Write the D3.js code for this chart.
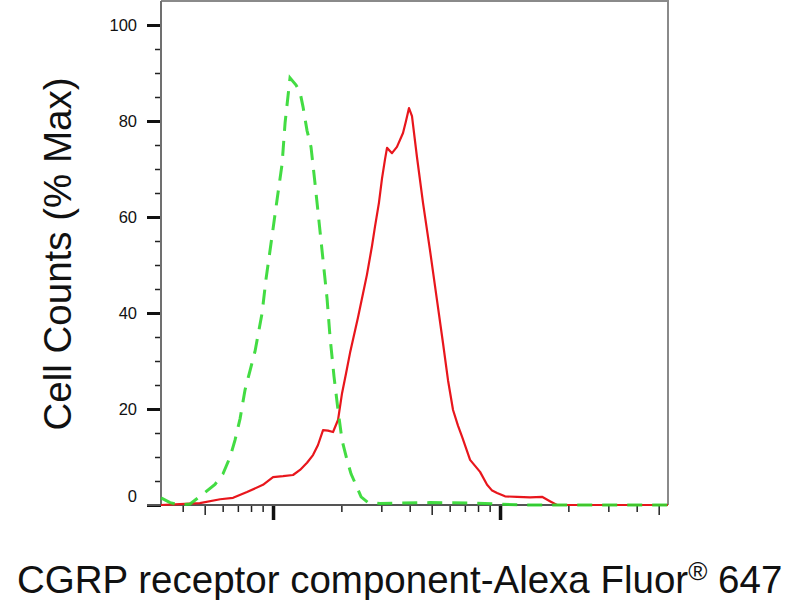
<!DOCTYPE html>
<html>
<head>
<meta charset="utf-8">
<script src="https://cdn.jsdelivr.net/npm/d3@7"></script>
<style>
  body { margin: 0; background: #fff; }
  text { font-family: Arial, "Liberation Sans", sans-serif; }
</style>
</head>
<body>
<div id="chart"></div>
<script>
// Flow cytometry histogram: isotype control (green dashed) vs sample (red)

// fluorescence intensity (log axis) and % max counts
const isotypeX = [321, 352, 389, 431, 492, 555, 602, 647, 680, 716, 753, 792, 833, 895, 931, 990, 1041, 1096, 1130, 1188, 1263,
    1315, 1355, 1412, 1470, 1531, 1595, 1661, 1730, 1783, 1857, 1933, 2014, 2118, 2206, 2298, 2443, 2623, 2960, 3625,
    4917, 7381, 10000, 12250, 54950];
const isotypeY = [1.5, 0.5, 0, 0.2, 2.3, 4.3, 6.5, 10, 13.5, 18, 24, 28, 32, 40, 47, 56, 63.5, 71, 79.6, 89, 87.5,
    86, 83, 78, 74.6, 67, 59, 51, 43, 35, 26.7, 19.8, 13.5, 9.4, 6.5, 4.6, 1.7, 0.5, 0.3, 0.4,
    0.5, 0.4, 0.2, 0, 0];

const sampleX = [321, 389, 476, 585, 667, 768, 903, 1000, 1107, 1225, 1315, 1412, 1500, 1578, 1661, 1746, 1838, 1933,
    2014, 2099, 2184, 2366, 2490, 2593, 2730, 2813, 2929, 3020, 3114, 3178, 3343, 3515, 3738, 3853, 3972, 4094, 4306,
    4577, 4917, 5276, 5609, 5900, 6209, 6534, 6808, 7381, 8166, 8770, 9230, 9706, 10520, 11890, 13560, 15310, 16590,
    17820, 54950];
const sampleY = [0, 0.2, 0.4, 1.2, 1.5, 2.7, 4.2, 5.8, 6.0, 6.25, 7.3, 8.8, 10.4, 12.5, 15.6, 15.5, 15.2, 17.7,
    23.3, 27.5, 31.7, 39, 44, 48, 54, 58, 63, 68, 72, 74.4, 73.3, 74.6, 77.5, 80, 82.7, 81, 72.5,
    63, 53, 42.7, 33.7, 26, 19.8, 16.5, 14.2, 9.4, 6.9, 4.2, 3, 2.5, 1.8, 1.7, 1.6, 1.7, 0.8,
    0, 0];

const yMajorTicks = [0, 20, 40, 60, 80, 100];
const yMinorTicks = d3.range(0, 101, 5);
const xDecadeTicks = [1000, 10000];
const xMinorTicks = [400, 500, 600, 700, 800, 900, 2000, 3000, 4000, 5000, 6000, 7000, 8000, 9000,
    20000, 30000, 40000, 50000];

const xTitle = 'CGRP receptor component-Alexa Fluor';
const yTitle = 'Cell Counts (% Max)';

const width = 800, height = 600;
const plot = { left: 161, right: 668, top: 1, bottom: 505 };

const svg = d3.select('#chart').append('svg')
    .attr('width', width)
    .attr('height', height);

const x = d3.scaleLog().domain([321, 54950]).range([plot.left, plot.right]);
const y = d3.scaleLinear().domain([0, 100]).range([plot.bottom, 25]);

// frame (top and right)
svg.append('path')
    .attr('d', `M${plot.left},${plot.top}H${plot.right}V${plot.bottom}`)
    .attr('fill', 'none')
    .attr('stroke', '#8a8a8a')
    .attr('stroke-width', 2);

// y axis: minor ticks every 5, labelled ticks every 20
const yMinor = svg.append('g')
    .attr('transform', `translate(${plot.left},0)`)
    .call(d3.axisLeft(y).tickValues(yMinorTicks).tickSize(6).tickFormat(''));
yMinor.select('.domain').remove();
yMinor.selectAll('line').attr('stroke', '#222').attr('stroke-width', 1.5);

const yMajor = svg.append('g')
    .attr('transform', `translate(${plot.left},0)`)
    .call(d3.axisLeft(y).tickValues(yMajorTicks).tickSize(14).tickPadding(10));
yMajor.select('.domain').remove();
yMajor.selectAll('line').attr('stroke', '#111').attr('stroke-width', 3);
yMajor.selectAll('text')
    .attr('font-size', 16.5)
    .attr('fill', '#111')
    .attr('dy', d => d === 0 ? '-0.2em' : '0.32em');

// x axis: log ticks, decades longer and thicker
const xMinor = svg.append('g')
    .attr('transform', `translate(0,${plot.bottom})`)
    .call(d3.axisBottom(x).tickValues(xMinorTicks).tickFormat(''));
xMinor.select('.domain').remove();
xMinor.selectAll('.tick line')
    .attr('y2', d => String(d)[0] === '5' ? 10 : 7)
    .attr('stroke', '#222')
    .attr('stroke-width', 1.5);

const xMajor = svg.append('g')
    .attr('transform', `translate(0,${plot.bottom})`)
    .call(d3.axisBottom(x).tickValues(xDecadeTicks).tickSize(15).tickFormat(''));
xMajor.select('.domain').remove();
xMajor.selectAll('.tick line').attr('stroke', '#111').attr('stroke-width', 3.5);

// axis lines
svg.append('line')
    .attr('x1', plot.left).attr('x2', plot.left)
    .attr('y1', plot.top).attr('y2', plot.bottom)
    .attr('stroke', '#707070').attr('stroke-width', 2);
svg.append('line')
    .attr('x1', plot.left - 14).attr('x2', plot.right)
    .attr('y1', plot.bottom).attr('y2', plot.bottom)
    .attr('stroke', '#555').attr('stroke-width', 2);

const line = d3.line()
    .x(d => x(d[0]))
    .y(d => y(d[1]));

svg.append('path')
    .datum(d3.zip(sampleX, sampleY))
    .attr('d', line)
    .attr('fill', 'none')
    .attr('stroke', '#e8161c')
    .attr('stroke-width', 2.2)
    .attr('stroke-linejoin', 'round');

svg.append('path')
    .datum(d3.zip(isotypeX, isotypeY))
    .attr('d', line)
    .attr('fill', 'none')
    .attr('stroke', '#2fd82f')
    .attr('stroke-opacity', 0.9)
    .attr('stroke-width', 3)
    .attr('stroke-dasharray', '15,10');

// titles
svg.append('text')
    .attr('transform', 'translate(71,254) rotate(-90)')
    .attr('text-anchor', 'middle')
    .attr('font-size', 38.5)
    .attr('fill', '#111')
    .text(yTitle);

const xt = svg.append('text')
    .attr('x', 17)
    .attr('y', 593)
    .attr('font-size', 38.5)
    .attr('fill', '#111');
xt.append('tspan').text(xTitle);
xt.append('tspan').attr('font-size', 26).attr('dy', -13).text('®');
xt.append('tspan').attr('dy', 13).text(' 647');
</script>
</body>
</html>
